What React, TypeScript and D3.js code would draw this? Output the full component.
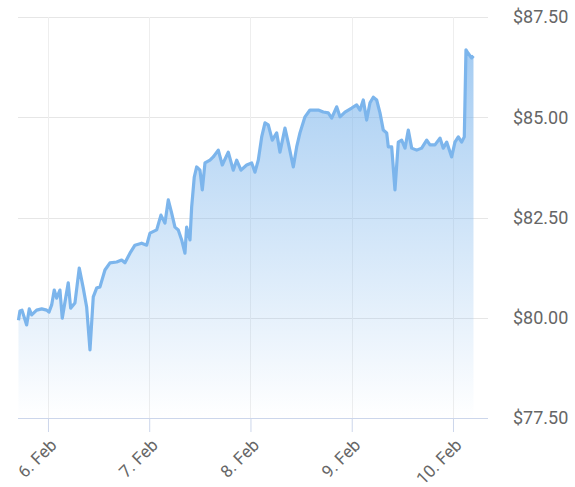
import { useEffect, useRef } from 'react'
import * as d3 from 'd3'

const WIDTH = 575
const HEIGHT = 487
const PLOT_LEFT = 18
const PLOT_RIGHT = 488
const PLOT_TOP = 17
const PLOT_BOTTOM = 418

const LINE_COLOR = '#7cb5ec'
const GRID_COLOR = '#e6e6e6'
const VGRID_COLOR = '#eeeeee'
const AXIS_COLOR = '#ccd6eb'
const LABEL_COLOR = '#666666'
const FONT = 'Roboto, "Open Sans", sans-serif'

const FEB_6 = Date.UTC(2019, 1, 6)
const HOUR = 3600 * 1000

// hours relative to 6 Feb 00:00
const hoursFromFeb6 = [
  -6.99, -6.64, -6.16, -5.05, -4.43, -3.86, -2.68, -1.49, -0.31, 0.24,
  0.88, 1.49, 2.06, 2.84, 3.39, 4.03, 4.81, 5.38, 6.4, 7.42,
  8.37, 9.17, 9.96, 10.74, 11.54, 12.33, 13.51, 14.7, 16.28, 17.47,
  18.25, 19.44, 20.62, 22.21, 23.4, 24.18, 25.77, 26.78, 27.73, 28.52,
  29.32, 30.1, 30.89, 31.69, 32.47, 32.87, 33.66, 34.06, 34.68, 35.25,
  36.03, 36.58, 37.22, 38.4, 39.18, 40.37, 41.32, 42.74, 43.92, 44.73,
  45.75, 47.1, 48.29, 49.07, 49.85, 50.66, 51.44, 52.22, 53.17, 54.21,
  54.99, 56.18, 56.96, 58.15, 58.95, 59.73, 60.92, 62.1, 64.07, 65.26,
  66.44, 67.25, 68.43, 69.22, 70.4, 71.99, 73.17, 73.96, 74.74, 75.54,
  76.33, 77.11, 77.91, 78.7, 79.48, 80.29, 80.67, 81.47, 82.25, 83.04,
  83.84, 84.63, 85.41, 86.21, 87.4, 88.58, 89.77, 90.55, 91.73, 92.92,
  93.7, 94.51, 95.69, 96.47, 97.26, 98.06, 98.68, 99.08, 99.55, 100.43,
  100.86,
]

const prices = [
  79.94, 80.17, 80.19, 79.82, 80.22, 80.07, 80.19, 80.22, 80.19, 80.14,
  80.32, 80.69, 80.49, 80.69, 79.99, 80.39, 80.87, 80.24, 80.37, 81.24,
  80.74, 80.27, 79.2, 80.52, 80.74, 80.77, 81.19, 81.37, 81.39, 81.44,
  81.37, 81.61, 81.81, 81.86, 81.81, 82.11, 82.19, 82.56, 82.36, 82.94,
  82.61, 82.26, 82.19, 81.94, 81.61, 82.26, 81.94, 82.76, 83.51, 83.76,
  83.68, 83.19, 83.86, 83.93, 84.01, 84.18, 83.81, 84.13, 83.68, 83.93,
  83.68, 83.81, 83.86, 83.63, 83.93, 84.51, 84.86, 84.81, 84.43, 84.61,
  84.13, 84.73, 84.36, 83.76, 84.26, 84.61, 85.01, 85.18, 85.18, 85.13,
  85.11, 84.98, 85.26, 85.01, 85.13, 85.23, 85.31, 85.18, 85.43, 84.93,
  85.36, 85.5, 85.43, 85.11, 84.68, 84.61, 84.26, 84.26, 83.19, 84.38,
  84.43, 84.23, 84.68, 84.23, 84.18, 84.23, 84.43, 84.31, 84.31, 84.48,
  84.23, 84.38, 84.01, 84.38, 84.51, 84.38, 84.51, 86.68, 86.6, 86.48,
  86.53,
]

const priceTicks = [77.5, 80, 82.5, 85, 87.5]
const dayTicks = ['2019-02-06', '2019-02-07', '2019-02-08', '2019-02-09', '2019-02-10']

interface Point {
  date: Date
  price: number
}

export default function App() {
  const svgRef = useRef<SVGSVGElement>(null)

  useEffect(() => {
    const el = svgRef.current
    if (!el) return
    const svg = d3.select(el)
    svg.selectAll('*').remove()

    const points: Point[] = hoursFromFeb6.map((h, i) => ({
      date: new Date(FEB_6 + h * HOUR),
      price: prices[i],
    }))

    const x = d3
      .scaleUtc()
      .domain([new Date(FEB_6 - 7.1 * HOUR), new Date(FEB_6 + 104.3 * HOUR)])
      .range([PLOT_LEFT, PLOT_RIGHT])

    const y = d3
      .scaleLinear()
      .domain([77.5, 87.5])
      .range([PLOT_BOTTOM, PLOT_TOP])

    const tickDates = dayTicks.map((d) => new Date(d + 'T00:00:00Z'))

    const defs = svg.append('defs')
    const grad = defs
      .append('linearGradient')
      .attr('id', 'areaFill')
      .attr('gradientUnits', 'userSpaceOnUse')
      .attr('x1', 0)
      .attr('x2', 0)
      .attr('y1', y(87.5))
      .attr('y2', y(77.5))
    grad.append('stop').attr('offset', '0%').attr('stop-color', LINE_COLOR).attr('stop-opacity', 0.75)
    grad.append('stop').attr('offset', '100%').attr('stop-color', LINE_COLOR).attr('stop-opacity', 0)

    // grid
    svg
      .append('g')
      .selectAll('line')
      .data(priceTicks)
      .join('line')
      .attr('x1', PLOT_LEFT)
      .attr('x2', PLOT_RIGHT)
      .attr('y1', (d) => Math.round(y(d)) + 0.5)
      .attr('y2', (d) => Math.round(y(d)) + 0.5)
      .attr('stroke', GRID_COLOR)
      .attr('stroke-width', 1)

    svg
      .append('g')
      .selectAll('line')
      .data(tickDates)
      .join('line')
      .attr('x1', (d) => Math.round(x(d)) + 0.5)
      .attr('x2', (d) => Math.round(x(d)) + 0.5)
      .attr('y1', PLOT_TOP)
      .attr('y2', PLOT_BOTTOM)
      .attr('stroke', VGRID_COLOR)
      .attr('stroke-width', 1)

    const area = d3
      .area<Point>()
      .x((d) => x(d.date))
      .y0(PLOT_BOTTOM)
      .y1((d) => y(d.price))

    const line = d3
      .line<Point>()
      .x((d) => x(d.date))
      .y((d) => y(d.price))

    svg.append('path').datum(points).attr('fill', 'url(#areaFill)').attr('d', area)

    svg
      .append('path')
      .datum(points)
      .attr('fill', 'none')
      .attr('stroke', LINE_COLOR)
      .attr('stroke-width', 3.2)
      .attr('stroke-linejoin', 'round')
      .attr('d', line)

    // x axis
    const xAxis = d3
      .axisBottom(x)
      .tickValues(tickDates)
      .tickSize(14)
      .tickSizeOuter(0)
      .tickFormat((d) => d3.utcFormat('%-d. %b')(d as Date))

    svg
      .append('g')
      .attr('transform', `translate(0,${PLOT_BOTTOM})`)
      .call(xAxis)
      .call((g) => g.selectAll('.domain, .tick line').attr('stroke', AXIS_COLOR))
      .call((g) => g.select('.domain').attr('d', `M${PLOT_LEFT},0.5H${PLOT_RIGHT}`))
      .call((g) =>
        g
          .selectAll('.tick text')
          .attr('fill', LABEL_COLOR)
          .attr('font-size', 17)
          .attr('font-family', FONT)
          .attr('text-anchor', 'end')
          .attr('x', 0)
          .attr('y', 0)
          .attr('dy', '0.35em')
          .attr('transform', 'translate(5,24) rotate(-45)')
      )

    // y axis on the right
    const yAxis = d3
      .axisRight(y)
      .tickValues(priceTicks)
      .tickSize(0)
      .tickPadding(25)
      .tickFormat((d) => `$${d3.format('.2f')(Number(d))}`)

    svg
      .append('g')
      .attr('transform', `translate(${PLOT_RIGHT},0)`)
      .call(yAxis)
      .call((g) => g.select('.domain').remove())
      .call((g) =>
        g
          .selectAll('.tick text')
          .attr('fill', LABEL_COLOR)
          .attr('font-size', 18)
          .attr('font-family', FONT)
      )
  }, [])

  return (
    <div style={{ position: 'absolute', left: 0, top: 0, width: WIDTH, height: HEIGHT, background: '#fff' }}>
      <svg ref={svgRef} width={WIDTH} height={HEIGHT} />
    </div>
  )
}
